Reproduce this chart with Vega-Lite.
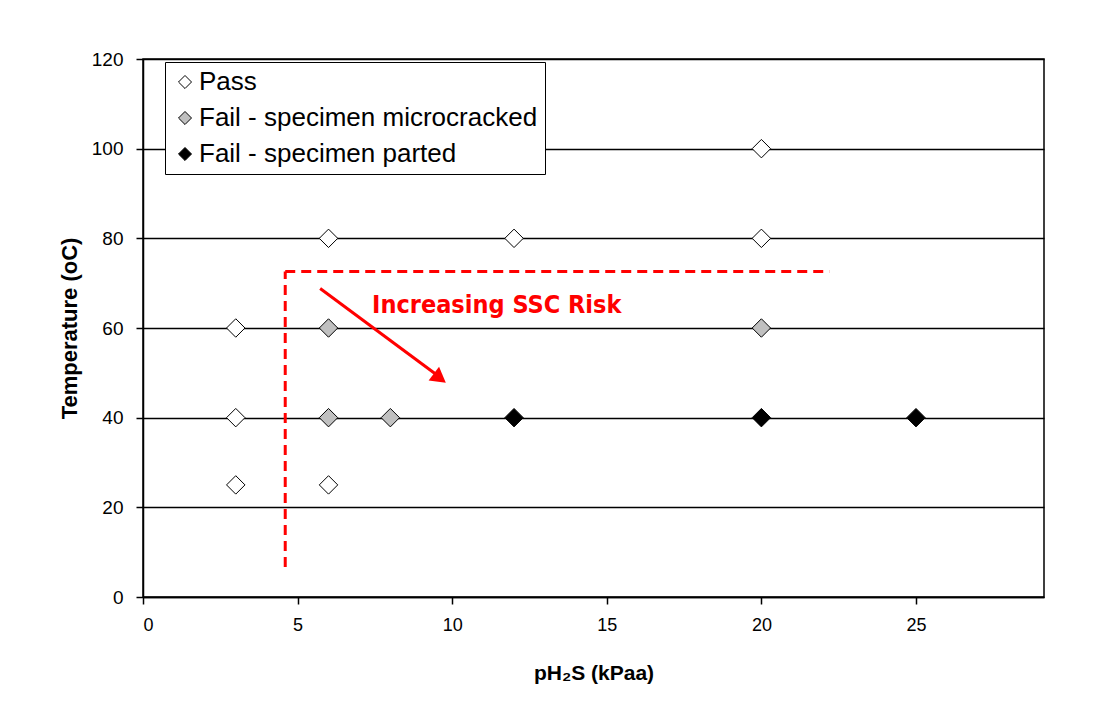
{
  "$schema": "https://vega.github.io/schema/vega-lite/v6.json",
  "width": 901,
  "height": 538,
  "autosize": {"type": "none"},
  "padding": {"left": 143, "top": 59, "right": 57, "bottom": 127},
  "background": "white",
  "config": {
    "font": "Liberation Sans",
    "view": {"stroke": "black", "strokeWidth": 1.5},
    "axis": {
      "domainColor": "black", "domainWidth": 1.5,
      "tickColor": "black", "tickWidth": 1.5, "tickSize": 7,
      "labelColor": "black", "titleColor": "black",
      "labelFont": "Liberation Sans", "titleFont": "Liberation Sans",
      "titleFontWeight": "bold"
    }
  },
  "encoding": {
    "x": {
      "field": "pH2S", "type": "quantitative",
      "scale": {"domain": [0, 29.14], "nice": false, "zero": false},
      "axis": {
        "title": "pH₂S (kPaa)", "values": [0, 5, 10, 15, 20, 25], "grid": false,
        "labelFontSize": 18, "labelFont": "Liberation Sans Narrow, Liberation Sans",
        "labelPadding": 12, "titleFontSize": 21, "titlePadding": 28, "format": "d"
      }
    },
    "y": {
      "field": "temp", "type": "quantitative",
      "scale": {"domain": [0, 120], "nice": false},
      "axis": {
        "title": "Temperature (oC)", "values": [0, 20, 40, 60, 80, 100, 120],
        "grid": true, "gridColor": "black", "gridWidth": 1.5, "gridOpacity": 1,
        "labelFontSize": 19, "labelPadding": 13,
        "titleFontSize": 22, "titlePadding": 10
      }
    }
  },
  "layer": [
    {
      "data": {"values": [
        {"pH2S": 4.6, "temp": 6.7, "pH2S_end": 4.6, "temp_end": 72.6},
        {"pH2S": 4.6, "temp": 72.6, "pH2S_end": 22.2, "temp_end": 72.6}
      ]},
      "mark": {"type": "rule", "color": "#FF0000", "strokeWidth": 3, "strokeDash": [10, 6]},
      "encoding": {"x2": {"field": "pH2S_end"}, "y2": {"field": "temp_end"}}
    },
    {
      "data": {"values": [
        {"pH2S": 5.73, "temp": 68.8, "pH2S_end": 9.55, "temp_end": 49.3}
      ]},
      "mark": {"type": "rule", "color": "#FF0000", "strokeWidth": 3},
      "encoding": {"x2": {"field": "pH2S_end"}, "y2": {"field": "temp_end"}}
    },
    {
      "data": {"values": [
        {"pH2S": 9.6, "temp": 48.8}
      ]},
      "mark": {"type": "point", "shape": "triangle-right", "angle": 37, "size": 300, "filled": true, "color": "#FF0000", "opacity": 1}
    },
    {
      "data": {"values": [
        {"pH2S": 7.41, "temp": 65.1, "label": "Increasing SSC Risk"}
      ]},
      "mark": {"type": "text", "align": "left", "baseline": "middle", "font": "DejaVu Sans Condensed, DejaVu Sans", "fontSize": 25, "fontWeight": "bold", "color": "#FF0000"},
      "encoding": {"text": {"field": "label"}}
    },
    {
      "data": {"values": [
        {"pH2S": 3, "temp": 60, "result": "Pass"},
        {"pH2S": 3, "temp": 40, "result": "Pass"},
        {"pH2S": 3, "temp": 25, "result": "Pass"},
        {"pH2S": 6, "temp": 80, "result": "Pass"},
        {"pH2S": 6, "temp": 25, "result": "Pass"},
        {"pH2S": 12, "temp": 80, "result": "Pass"},
        {"pH2S": 20, "temp": 100, "result": "Pass"},
        {"pH2S": 20, "temp": 80, "result": "Pass"},
        {"pH2S": 6, "temp": 60, "result": "Fail - specimen microcracked"},
        {"pH2S": 6, "temp": 40, "result": "Fail - specimen microcracked"},
        {"pH2S": 8, "temp": 40, "result": "Fail - specimen microcracked"},
        {"pH2S": 20, "temp": 60, "result": "Fail - specimen microcracked"},
        {"pH2S": 12, "temp": 40, "result": "Fail - specimen parted"},
        {"pH2S": 20, "temp": 40, "result": "Fail - specimen parted"},
        {"pH2S": 25, "temp": 40, "result": "Fail - specimen parted"}
      ]},
      "mark": {"type": "point", "shape": "diamond", "filled": true, "size": 340, "stroke": "black", "strokeWidth": 1, "opacity": 1},
      "encoding": {
        "color": {
          "field": "result", "type": "nominal",
          "scale": {"domain": ["Pass", "Fail - specimen microcracked", "Fail - specimen parted"], "range": ["white", "#C0C0C0", "black"]},
          "legend": {
            "title": null, "orient": "none", "legendX": 22, "legendY": 3, "direction": "vertical",
            "fillColor": "white", "strokeColor": "black", "padding": 7,
            "labelFontSize": 26, "labelFont": "Liberation Sans", "labelColor": "black",
            "symbolType": "diamond", "symbolSize": 170, "symbolStrokeColor": "black", "symbolStrokeWidth": 1,
            "symbolOpacity": 1, "rowPadding": 10, "labelOffset": 1, "labelLimit": 600
          }
        }
      }
    }
  ]
}
